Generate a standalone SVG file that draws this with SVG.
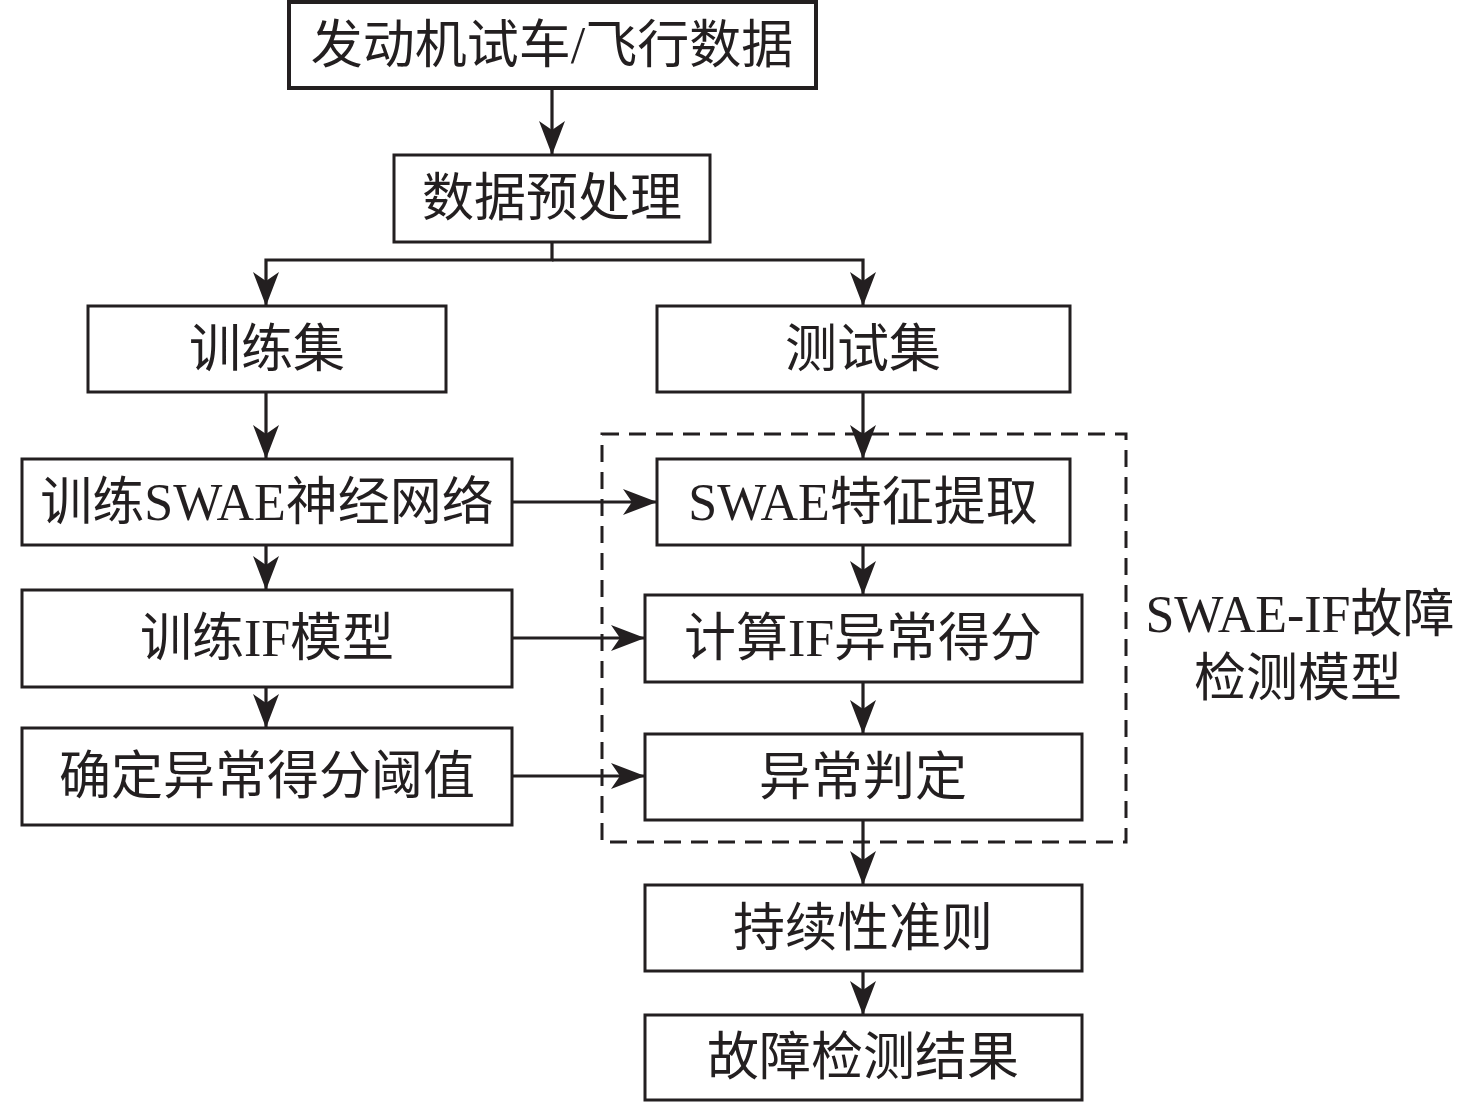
<svg xmlns="http://www.w3.org/2000/svg" width="1476" height="1103" viewBox="0 0 1476 1103">
<style>
.box{fill:#fff;stroke:#231f20;stroke-width:3}
.t{font-family:"Liberation Serif","Noto Sans CJK SC",serif;font-size:52px;fill:#231f20;text-anchor:middle;dominant-baseline:central}
.c{fill:none;stroke:#231f20;stroke-width:3.2}
</style>
<defs>
<marker id="ah" markerUnits="userSpaceOnUse" markerWidth="34" markerHeight="26" refX="34" refY="13" orient="auto" viewBox="0 0 34 26">
<path d="M34,13 L0,0 L9,13 L0,26 Z" fill="#231f20"/>
</marker>
</defs>
<rect x="0" y="0" width="1476" height="1103" fill="#fff"/>
<g id="connectors">
<path class="c" d="M552,89 V155" marker-end="url(#ah)"/>
<path class="c" d="M552,242 V260 H266 V306" marker-end="url(#ah)"/>
<path class="c" d="M552,260 H863 V306" marker-end="url(#ah)"/>
<path class="c" d="M266,392 V459" marker-end="url(#ah)"/>
<path class="c" d="M266,545 V590" marker-end="url(#ah)"/>
<path class="c" d="M266,687 V728" marker-end="url(#ah)"/>
<path class="c" d="M863,392 V459" marker-end="url(#ah)"/>
<path class="c" d="M863,545 V595" marker-end="url(#ah)"/>
<path class="c" d="M863,682 V734" marker-end="url(#ah)"/>
<path class="c" d="M863,820 V885" marker-end="url(#ah)"/>
<path class="c" d="M863,971 V1015" marker-end="url(#ah)"/>
<path class="c" d="M512,502 H657" marker-end="url(#ah)"/>
<path class="c" d="M512,638 H645" marker-end="url(#ah)"/>
<path class="c" d="M512,776 H645" marker-end="url(#ah)"/>
</g>
<g id="dashed-group">
<rect x="602" y="434" width="524" height="408" fill="none" stroke="#231f20" stroke-width="3" stroke-dasharray="17,10"/>
<text class="t" x="1300" y="614">SWAE-IF故障</text>
<text class="t" x="1298" y="678">检测模型</text>
</g>
<g id="n1"><rect class="box" x="289" y="2" width="527" height="86" style="stroke-width:4"/><text class="t" x="552" y="45">发动机试车/飞行数据</text></g>
<g id="n2"><rect class="box" x="394" y="155" width="316" height="87"/><text class="t" x="552" y="198">数据预处理</text></g>
<g id="n3"><rect class="box" x="88" y="306" width="358" height="86"/><text class="t" x="267" y="349">训练集</text></g>
<g id="n4"><rect class="box" x="657" y="306" width="413" height="86"/><text class="t" x="863" y="349">测试集</text></g>
<g id="n5"><rect class="box" x="22" y="459" width="490" height="86"/><text class="t" x="267" y="502">训练SWAE神经网络</text></g>
<g id="n6"><rect class="box" x="22" y="590" width="490" height="97"/><text class="t" x="267" y="638">训练IF模型</text></g>
<g id="n7"><rect class="box" x="22" y="728" width="490" height="97"/><text class="t" x="267" y="776">确定异常得分阈值</text></g>
<g id="n8"><rect class="box" x="657" y="459" width="413" height="86"/><text class="t" x="863" y="502">SWAE特征提取</text></g>
<g id="n9"><rect class="box" x="645" y="595" width="437" height="87"/><text class="t" x="863" y="638">计算IF异常得分</text></g>
<g id="n10"><rect class="box" x="645" y="734" width="437" height="86"/><text class="t" x="863" y="777">异常判定</text></g>
<g id="n11"><rect class="box" x="645" y="885" width="437" height="86"/><text class="t" x="863" y="928">持续性准则</text></g>
<g id="n12"><rect class="box" x="645" y="1015" width="437" height="85"/><text class="t" x="863" y="1057">故障检测结果</text></g>
</svg>
